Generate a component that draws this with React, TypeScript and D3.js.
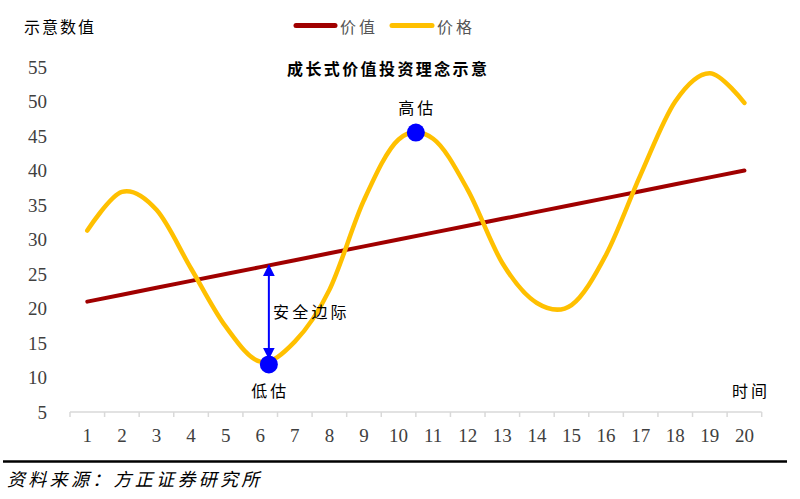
import React from 'react';
import * as d3 from 'd3';

const categories = Array.from({ length: 20 }, (_, i) => i + 1);
const valueSeries = [21, 22, 23, 24, 25, 26, 27, 28, 29, 30, 31, 32, 33, 34, 35, 36, 37, 38, 39, 40];
const priceSeries = [31.3, 36.9, 34.3, 25.8, 17.4, 12.3, 15.2, 22.7, 35.7, 44.5, 44.6, 37.2, 26.6, 20.8, 20.5, 27.8, 39.4, 50.0, 54.1, 49.8];
const yTicks = [5, 10, 15, 20, 25, 30, 35, 40, 45, 50, 55];
const markers = [
  { cat: 6.25, val: 11.9, label: '低估', pos: 'below' },
  { cat: 10.5, val: 45.5, label: '高估', pos: 'above' },
];
const marginArrow = { cat: 6.25, from: 11.9, to: 26.25, label: '安全边际' };

const CJK = '"Noto Sans CJK SC", "Noto Sans", sans-serif';
const SERIF = '"Liberation Serif", "DejaVu Serif", serif';

export default function App() {
  const W = 800, H = 499;
  const x = d3.scaleLinear().domain([0.5, 20.5]).range([70, 761.7]);
  const y = d3.scaleLinear().domain([5, 55]).range([412, 67]);

  const line = d3
    .line<number>()
    .x((_, i) => x(categories[i]))
    .y((d) => y(d));
  const smooth = d3
    .line<number>()
    .x((_, i) => x(categories[i]))
    .y((d) => y(d))
    .curve(d3.curveCardinal.tension(0));

  const tickBounds = d3.range(0.5, 21, 1);
  const ax = x(marginArrow.cat);
  const yTop = y(marginArrow.to);
  const yBot = y(marginArrow.from) - 6;

  return (
    <svg width={W} height={H} style={{ position: 'absolute', left: 0, top: 0, background: '#fff' }}>
      <defs>
        <marker id="ah" viewBox="0 0 10 10" refX="9" refY="5" markerWidth="6" markerHeight="6" orient="auto-start-reverse" markerUnits="strokeWidth">
          <path d="M0,0 L10,5 L0,10 z" fill="#0000ff" />
        </marker>
      </defs>
      {/* y axis label */}
      <text x={24} y={26} dominantBaseline="central" fontFamily={CJK} fontSize={16} letterSpacing={2} fill="#000">示意数值</text>
      {/* legend */}
      <line x1={296} x2={335} y1={25.5} y2={25.5} stroke="#a00000" strokeWidth={5} strokeLinecap="round" />
      <text x={340} y={26} dominantBaseline="central" fontFamily={CJK} fontSize={16} letterSpacing={3} fill="#555">价值</text>
      <line x1={392} x2={432} y1={25.5} y2={25.5} stroke="#ffc000" strokeWidth={5} strokeLinecap="round" />
      <text x={437} y={26} dominantBaseline="central" fontFamily={CJK} fontSize={16} letterSpacing={3} fill="#555">价格</text>
      {/* title */}
      <text x={287} y={68} dominantBaseline="central" fontFamily={CJK} fontSize={16} fontWeight="bold" letterSpacing={2.4} fill="#000">成长式价值投资理念示意</text>
      {/* y tick labels */}
      {yTicks.map((t) => (
        <text key={t} x={47} y={y(t)} textAnchor="end" dominantBaseline="central" fontFamily={SERIF} fontSize={19} fill="#404040">{t}</text>
      ))}
      {/* x axis */}
      <line x1={x(0.5)} x2={x(20.5)} y1={412} y2={412} stroke="#d9d9d9" strokeWidth={1.5} />
      {tickBounds.map((b) => (
        <line key={b} x1={x(b)} x2={x(b)} y1={412} y2={417} stroke="#d9d9d9" strokeWidth={1.5} />
      ))}
      {categories.map((c) => (
        <text key={c} x={x(c)} y={435} textAnchor="middle" dominantBaseline="central" fontFamily={SERIF} fontSize={19} fill="#404040">{c}</text>
      ))}
      <text x={732} y={390} dominantBaseline="central" fontFamily={CJK} fontSize={16} letterSpacing={3} fill="#000">时间</text>
      {/* series */}
      <path d={line(valueSeries) || ''} fill="none" stroke="#a00000" strokeWidth={4} strokeLinecap="round" />
      <path d={smooth(priceSeries) || ''} fill="none" stroke="#ffc000" strokeWidth={4.5} strokeLinecap="round" />
      {/* arrow */}
      <line x1={ax} x2={ax} y1={yBot} y2={yTop} stroke="#0000ff" strokeWidth={2} markerStart="url(#ah)" markerEnd="url(#ah)" />
      <text x={273} y={311} dominantBaseline="central" fontFamily={CJK} fontSize={16} letterSpacing={3.2} fill="#000">{marginArrow.label}</text>
      {/* markers */}
      {markers.map((m) => (
        <g key={m.label}>
          <circle cx={x(m.cat)} cy={y(m.val)} r={9} fill="#0000ff" />
          <text
            x={x(m.cat) + 1.5}
            y={m.pos === 'below' ? y(m.val) + 26 : y(m.val) - 26}
            textAnchor="middle"
            dominantBaseline="central"
            fontFamily={CJK}
            fontSize={16}
            letterSpacing={3}
            fill="#000"
          >
            {m.label}
          </text>
        </g>
      ))}
      {/* source */}
      <line x1={3} x2={787} y1={461.5} y2={461.5} stroke="#000" strokeWidth={2.5} />
      <text x={7} y={478} dominantBaseline="central" fontFamily={CJK} fontSize={18} fontStyle="italic" letterSpacing={3.3} fill="#000">资料来源：方正证券研究所</text>
    </svg>
  );
}
